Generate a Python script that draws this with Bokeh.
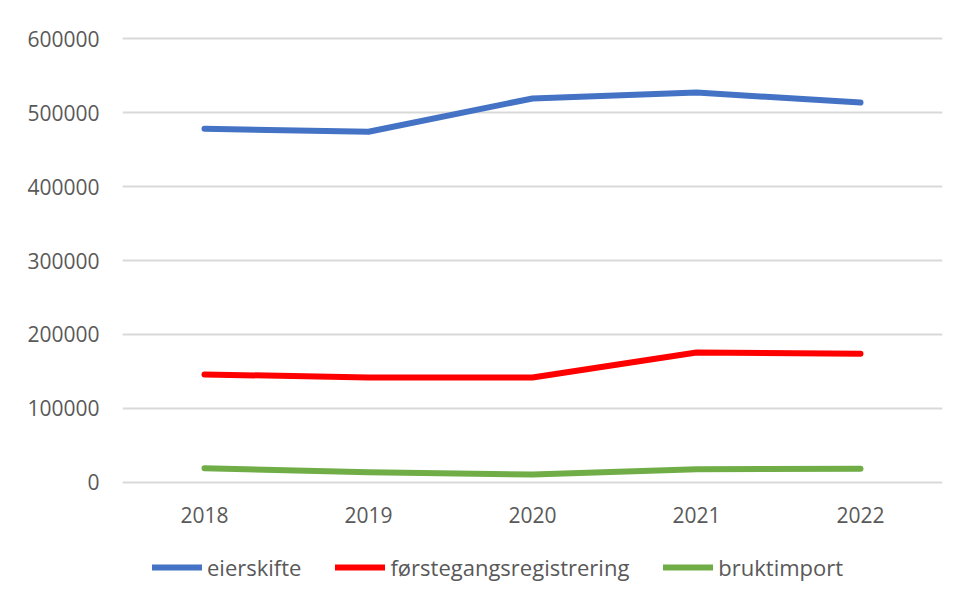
from bokeh.plotting import figure
from bokeh.models import FactorRange, Range1d, FixedTicker, BasicTickFormatter, Legend, LegendItem
from bokeh.layouts import column
from bokeh.embed import file_html
from bokeh.resources import INLINE

years = ["2018", "2019", "2020", "2021", "2022"]
eierskifte = [478000, 474000, 519000, 527000, 513500]
forstegang = [146000, 142000, 142000, 175600, 174000]
bruktimport = [19300, 14000, 10800, 18000, 18500]
y_ticks = [0, 100000, 200000, 300000, 400000, 500000, 600000]

FONT = "Open Sans"
TXT = "#595959"

p = figure(width=950, height=545, output_backend="svg", toolbar_location=None,
           x_range=FactorRange(factors=years, range_padding=0),
           y_range=Range1d(-2703, 602703),
           min_border_left=122, min_border_right=8, min_border_top=36, min_border_bottom=61)
p.outline_line_color = None
p.background_fill_color = "white"
p.border_fill_color = "white"

p.xgrid.grid_line_color = None
p.ygrid.grid_line_color = "#d9d9d9"
p.ygrid.grid_line_width = 2
p.ygrid.ticker = FixedTicker(ticks=y_ticks)

p.yaxis.ticker = FixedTicker(ticks=y_ticks)
p.yaxis.formatter = BasicTickFormatter(use_scientific=False)
for ax in (p.xaxis[0], p.yaxis[0]):
    ax.axis_line_color = None
    ax.major_tick_line_color = None
    ax.minor_tick_line_color = None
    ax.major_label_text_font = FONT
    ax.major_label_text_font_size = "21px"
    ax.major_label_text_color = TXT
p.yaxis.major_label_standoff = 17
p.xaxis.major_label_standoff = 16

series = [("eierskifte", eierskifte, "#4472C4"),
          ("førstegangsregistrering", forstegang, "#FF0000"),
          ("bruktimport", bruktimport, "#70AD47")]

# legend strip below the chart (its renderers are hidden; only the legend shows)
lg = figure(width=950, height=50, output_backend="svg", toolbar_location=None,
            x_range=FactorRange(factors=years, range_padding=0), y_range=Range1d(0, 1),
            min_border_left=0, min_border_right=0, min_border_top=0, min_border_bottom=0)
lg.axis.visible = False
lg.grid.visible = False
lg.outline_line_color = None
lg.border_fill_color = "white"
lg.background_fill_color = "white"

items = []
for name, vals, col in series:
    p.line(years, vals, line_color=col, line_width=6, line_cap="round", line_join="round")
    r = lg.line(years, vals, line_color=col, line_width=6, line_cap="round", visible=False)
    items.append(LegendItem(label=name, renderers=[r]))

legend = Legend(items=items, orientation="horizontal", location=(30, 13),
                padding=0, margin=0, spacing=34, glyph_width=50, label_standoff=5,
                border_line_color=None, background_fill_alpha=0, inactive_fill_alpha=0,
                label_text_font=FONT, label_text_font_size="22px", label_text_color=TXT)
lg.add_layout(legend, "center")

layout = column(p, lg, spacing=0)
open("out.html", "w").write(file_html(layout, INLINE))
